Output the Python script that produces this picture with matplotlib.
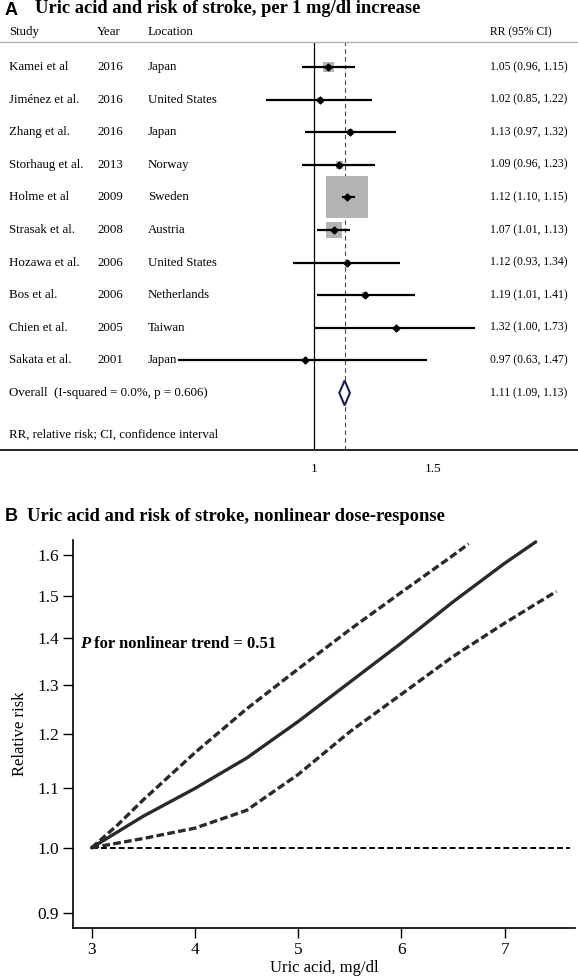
import matplotlib
matplotlib.use('Agg')
import matplotlib.pyplot as plt
import matplotlib.transforms as mtransforms
from matplotlib.patches import Polygon

# panel A data
studies = ['Kamei et al', 'Jiménez et al.', 'Zhang et al.', 'Storhaug et al.', 'Holme et al',
           'Strasak et al.', 'Hozawa et al.', 'Bos et al.', 'Chien et al.', 'Sakata et al.']
years = ['2016', '2016', '2016', '2013', '2009', '2008', '2006', '2006', '2005', '2001']
locations = ['Japan', 'United States', 'Japan', 'Norway', 'Sweden', 'Austria',
             'United States', 'Netherlands', 'Taiwan', 'Japan']
rr = [1.05, 1.02, 1.13, 1.09, 1.12, 1.07, 1.12, 1.19, 1.32, 0.97]
rr_lo = [0.96, 0.85, 0.97, 0.96, 1.10, 1.01, 0.93, 1.01, 1.00, 0.63]
rr_hi = [1.15, 1.22, 1.32, 1.23, 1.15, 1.13, 1.34, 1.41, 1.73, 1.47]
weights = [4.6, 1.1, 1.6, 2.4, 75.3, 11.8, 1.1, 1.3, 0.5, 0.2]  # estimated %
overall = (1.11, 1.09, 1.13)
overall_label = 'Overall  (I-squared = 0.0%, p = 0.606)'
footnote = 'RR, relative risk; CI, confidence interval'

# panel B data
spline_x = [3.0, 3.5, 4.0, 4.5, 5.0, 5.5, 6.0, 6.5, 7.0, 7.3]
spline_rr = [1.0, 1.052, 1.10, 1.155, 1.225, 1.305, 1.39, 1.485, 1.58, 1.635]
upper_x = [3.0, 3.25, 3.5, 4.0, 4.5, 5.0, 5.5, 6.0, 6.5, 6.65]
upper_rr = [1.0, 1.037, 1.08, 1.165, 1.25, 1.333, 1.42, 1.508, 1.60, 1.63]
lower_x = [3.0, 3.5, 4.0, 4.5, 5.0, 5.5, 6.0, 6.5, 7.0, 7.5]
lower_rr = [1.0, 1.015, 1.032, 1.062, 1.125, 1.205, 1.28, 1.36, 1.435, 1.51]
ref_x = [3.0, 7.63]
ref_rr = [1.0, 1.0]

serif = 'Liberation Serif'
sans = 'Liberation Sans'
W, H = 578, 977

fig = plt.figure(figsize=(W / 100, H / 100), dpi=100)

# ---------- panel A ----------
fig.text(5 / W, 1 - 15 / H, 'A', family=sans, fontweight='bold', fontsize=13, va='baseline')
fig.text(35 / W, 1 - 13.3 / H, 'Uric acid and risk of stroke, per 1 mg/dl increase',
         family=serif, fontweight='bold', fontsize=13.3, va='baseline')

axA = fig.add_axes([0, 1 - 450 / H, 1, 408 / H])
axA.set_xscale('log')
axA.set_xlim(0.3431, 2.458)
axA.set_ylim(11.75, -0.767)
rows = list(range(len(studies)))

axA.axvline(1, color='black', lw=0.9, zorder=1)
axA.axvline(overall[0], color='#7a2e3a', lw=0.8, ls=(0, (4, 3)), zorder=1)
axA.scatter(rr, rows, s=[12.1 * w for w in weights], marker='s', color='#b3b3b3',
            linewidths=0, zorder=2)
axA.hlines(rows, rr_lo, rr_hi, color='black', lw=1.6, zorder=3)
axA.plot(rr, rows, 'D', ms=3.5, color='black', zorder=4)

h = 0.383
dia = Polygon([(overall[1], 10), (overall[0], 10 - h), (overall[2], 10), (overall[0], 10 + h)],
              closed=True, facecolor='white', edgecolor='#1c1c5c', lw=1.5, zorder=4)
axA.add_patch(dia)

tr = mtransforms.blended_transform_factory(axA.transAxes, axA.transData)
col_x = [9 / W, 97 / W, 148 / W, 490 / W]
fs = 9.3
fs_rr = 8.4
head_y = -0.767 - 10 / 32.6
for x, s in zip(col_x, ['Study', 'Year', 'Location']):
    axA.text(x, head_y, s, transform=tr, family=serif, fontsize=fs, va='center', clip_on=False)
axA.text(col_x[3], head_y, 'RR (95% CI)', transform=tr, family=serif, fontsize=fs_rr,
         va='center', clip_on=False)
for i in rows:
    axA.text(col_x[0], i, studies[i], transform=tr, family=serif, fontsize=fs, va='center')
    axA.text(col_x[1], i, years[i], transform=tr, family=serif, fontsize=fs, va='center')
    axA.text(col_x[2], i, locations[i], transform=tr, family=serif, fontsize=fs, va='center')
    axA.text(col_x[3], i, '%.2f (%.2f, %.2f)' % (rr[i], rr_lo[i], rr_hi[i]), transform=tr,
             family=serif, fontsize=fs_rr, va='center')
axA.text(col_x[0], 10, overall_label, transform=tr, family=serif, fontsize=fs, va='center')
axA.text(col_x[3], 10, '%.2f (%.2f, %.2f)' % overall, transform=tr, family=serif,
         fontsize=fs_rr, va='center')
axA.text(col_x[0], 11.27, footnote, transform=tr, family=serif, fontsize=fs, va='center')

axA.set_xticks([1, 1.5])
axA.set_xticklabels(['1', '1.5'], family=serif, fontsize=9.5)
axA.xaxis.set_minor_locator(matplotlib.ticker.NullLocator())
axA.tick_params(axis='x', length=0, pad=9)
axA.set_yticks([])
for s in ['left', 'right']:
    axA.spines[s].set_visible(False)
axA.spines['top'].set_color('#b0b0b0')
axA.spines['top'].set_linewidth(1)
axA.spines['bottom'].set_linewidth(1.2)

# ---------- panel B ----------
fig.text(5 / W, 1 - 520.7 / H, 'B', family=sans, fontweight='bold', fontsize=13, va='baseline')
fig.text(27 / W, 1 - 520.7 / H, 'Uric acid and risk of stroke, nonlinear dose-response',
         family=serif, fontweight='bold', fontsize=13.4, va='baseline')

axB = fig.add_axes([73 / W, 1 - 928 / H, 502 / W, 388 / H])
axB.set_yscale('log')
axB.set_ylim(0.879, 1.64)
axB.set_xlim(2.82, 7.68)

axB.plot(ref_x, ref_rr, color='black', lw=1.4, ls=(0, (3, 1.6)))
axB.plot(spline_x, spline_rr, color='#2a2a2a', lw=2.4, solid_capstyle='round')
axB.plot(upper_x, upper_rr, color='#2a2a2a', lw=2.4, ls=(0, (2.3, 1.0)))
axB.plot(lower_x, lower_rr, color='#2a2a2a', lw=2.4, ls=(0, (2.3, 1.0)))

yt = [0.9, 1.0, 1.1, 1.2, 1.3, 1.4, 1.5, 1.6]
axB.yaxis.set_major_locator(matplotlib.ticker.FixedLocator(yt))
axB.yaxis.set_major_formatter(matplotlib.ticker.FixedFormatter(['%.1f' % v for v in yt]))
axB.yaxis.set_minor_locator(matplotlib.ticker.NullLocator())
axB.set_xticks([3, 4, 5, 6, 7])
axB.tick_params(direction='out', length=7, width=1, pad=3, labelsize=12.5)
for lab in axB.get_xticklabels() + axB.get_yticklabels():
    lab.set_family(serif)
for s in ['top', 'right']:
    axB.spines[s].set_visible(False)
for s in ['left', 'bottom']:
    axB.spines[s].set_linewidth(1.2)

axB.set_xlabel('Uric acid, mg/dl', family=serif, fontsize=12, va='top')
axB.xaxis.set_label_coords(0.5, -0.082)
axB.set_ylabel('Relative risk', family=serif, fontsize=12)
axB.yaxis.set_label_coords(-0.09, 0.5)

tp = mtransforms.blended_transform_factory(axB.transAxes, axB.transData)
p_txt = axB.text((80 - 73) / 502, 1.379, 'P', transform=tp, family=serif, fontweight='bold',
                 fontstyle='italic', fontsize=12, va='baseline')
axB.annotate(' for nonlinear trend = 0.51', xy=(1, 0), xycoords=p_txt, family=serif,
             fontweight='bold', fontsize=12, va='bottom', ha='left')

fig.savefig('out.png', dpi=100)
